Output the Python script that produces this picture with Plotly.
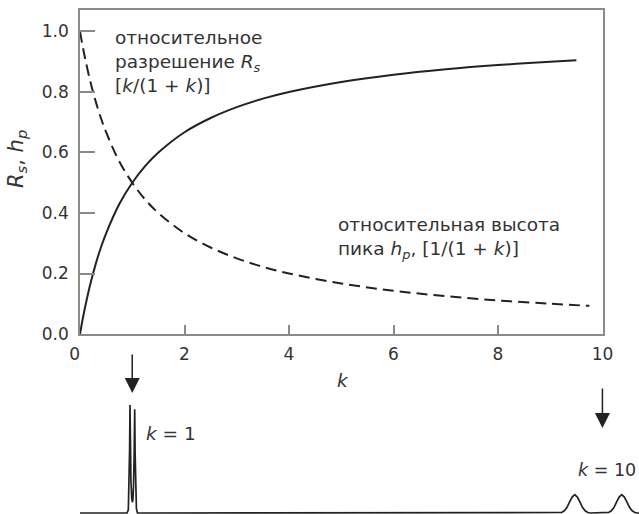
import plotly.graph_objects as go

# Retention factor k and the two relative quantities
k_vals = [0, 0.05, 0.1, 0.2, 0.3, 0.4, 0.5, 0.75, 1.0, 1.25, 1.5, 2.0, 2.5, 3.0, 3.5, 4.0, 5.0, 6.0, 7.0, 8.0, 9.0, 9.5]
rs_vals = [0, 0.048, 0.091, 0.167, 0.231, 0.286, 0.333, 0.429, 0.500, 0.556, 0.600, 0.667, 0.714, 0.750, 0.778, 0.800, 0.833, 0.857, 0.875, 0.889, 0.900, 0.905]

k_hp = [0, 0.05, 0.1, 0.2, 0.3, 0.4, 0.5, 0.75, 1.0, 1.25, 1.5, 2.0, 2.5, 3.0, 3.5, 4.0, 5.0, 6.0, 7.0, 8.0, 9.0, 9.75]
hp_vals = [1.0, 0.952, 0.909, 0.833, 0.769, 0.714, 0.667, 0.571, 0.500, 0.444, 0.400, 0.333, 0.286, 0.250, 0.222, 0.200, 0.167, 0.143, 0.125, 0.111, 0.100, 0.093]

# Chromatogram trace below the plot (time in k units, normalised signal)
chrom_t = [0, 0.90, 0.925, 0.94, 0.95, 0.957, 0.965, 0.975, 0.99, 1.002, 1.012, 1.025, 1.037, 1.047, 1.055, 1.065, 1.08, 1.10, 1.13,
           9.17, 9.22, 9.27, 9.32, 9.37, 9.42, 9.47, 9.52, 9.57, 9.62, 9.67, 9.72, 9.77,
           10.07, 10.12, 10.17, 10.22, 10.27, 10.32, 10.37, 10.42, 10.47, 10.52, 10.57, 10.62, 10.67, 10.70]
chrom_s = [0, 0, 0.03, 0.25, 0.6, 1.0, 0.6, 0.3, 0.14, 0.1, 0.12, 0.25, 0.55, 0.96, 0.55, 0.25, 0.04, 0, 0,
           0, 0.005, 0.02, 0.05, 0.10, 0.148, 0.17, 0.148, 0.10, 0.05, 0.02, 0.005, 0,
           0, 0.005, 0.02, 0.05, 0.10, 0.148, 0.17, 0.148, 0.10, 0.05, 0.02, 0.005, 0, 0]

W, H = 639, 514
FONT = "DejaVu Sans, Liberation Sans, sans-serif"
INK = "#222222"
TXT = "#333333"
FRAME = "#8a8a8a"

fig = go.Figure()

fig.add_trace(go.Scatter(x=k_vals, y=rs_vals, mode="lines", line_shape="spline",
                         line=dict(color=INK, width=2), xaxis="x", yaxis="y", hoverinfo="skip"))
fig.add_trace(go.Scatter(x=k_hp, y=hp_vals, mode="lines", line_shape="spline",
                         line=dict(color=INK, width=2, dash="11px,6px"), xaxis="x", yaxis="y", hoverinfo="skip"))
fig.add_trace(go.Scatter(x=chrom_t, y=chrom_s, mode="lines",
                         line=dict(color=INK, width=1.7), xaxis="x2", yaxis="y2", hoverinfo="skip"))

px = lambda v: v / W
py = lambda v: 1 - v / H

axis_common = dict(showgrid=False, zeroline=False, showline=True, mirror=True, automargin=False,
                   linecolor=FRAME, linewidth=1.5, ticks="inside", tickcolor=FRAME, tickwidth=1.5,
                   tickfont=dict(family=FONT, size=17, color=TXT))

fig.update_layout(
    width=W, height=H, margin=dict(l=0, r=0, t=0, b=0, autoexpand=False),
    paper_bgcolor="white", plot_bgcolor="white", showlegend=False,
    xaxis=dict(domain=[px(80), px(602.5)], range=[0, 10], tickvals=[0, 2, 4, 6, 8, 10],
               ticktext=["0  ", "2", "4", "6", "8", "10"],
               ticklen=9, anchor="y", ticklabelstandoff=4, **axis_common),
    yaxis=dict(domain=[py(334), py(9.7)], range=[0, 1.072],
               tickvals=[0, 0.2, 0.4, 0.6, 0.8, 1.0], ticktext=["0.0", "0.2", "0.4", "0.6", "0.8", "1.0"],
               ticklen=15, anchor="x", ticklabelstandoff=6, **axis_common),
    xaxis2=dict(domain=[px(80), 1], range=[0, 10.70], visible=False, anchor="y2", automargin=False),
    yaxis2=dict(domain=[0, py(395)], range=[-0.0093, 1.093], visible=False, anchor="x2", automargin=False),
)

txt = dict(family=FONT, size=18.5, color=TXT)
ann = [
    dict(text="относительное<br>разрешение <i>R<sub>s</sub></i><br>[<i>k</i>/(1 + <i>k</i>)]",
         xref="paper", yref="paper", x=px(113), y=py(25), xanchor="left", yanchor="top",
         align="left", showarrow=False, font=txt),
    dict(text="относительная высота<br>пика <i>h<sub>p</sub></i>, [1/(1 + <i>k</i>)]",
         xref="paper", yref="paper", x=px(336), y=py(212), xanchor="left", yanchor="top",
         align="left", showarrow=False, font=txt),
    dict(text="<i>R<sub>s</sub></i>, <i>h<sub>p</sub></i>", textangle=-90,
         xref="paper", yref="paper", x=px(17), y=py(159), xanchor="center", yanchor="middle",
         showarrow=False, font=dict(family=FONT, size=21, color=TXT)),
    dict(text="<i>k</i>", xref="paper", yref="paper", x=px(343), y=py(380),
         xanchor="center", yanchor="middle", showarrow=False, font=txt),
    dict(text="<i>k</i> = 1", xref="paper", yref="paper", x=px(144), y=py(433),
         xanchor="left", yanchor="middle", showarrow=False, font=txt),
    dict(text="<i>k</i> = 10", xref="paper", yref="paper", x=px(576), y=py(470),
         xanchor="left", yanchor="middle", showarrow=False, font=dict(family=FONT, size=17.5, color=TXT)),
    # arrows pointing to the k = 1 and k = 10 peaks
    dict(text="", x=1, xref="x2", y=py(393), yref="paper", ax=0, ay=-40,
         showarrow=True, arrowhead=2, arrowsize=2, arrowwidth=1.5, arrowcolor=INK),
    dict(text="", x=10, xref="x2", y=py(428), yref="paper", ax=0, ay=-41,
         showarrow=True, arrowhead=2, arrowsize=2, arrowwidth=1.5, arrowcolor=INK),
]
fig.update_layout(annotations=ann)

fig.write_html("out.html")
